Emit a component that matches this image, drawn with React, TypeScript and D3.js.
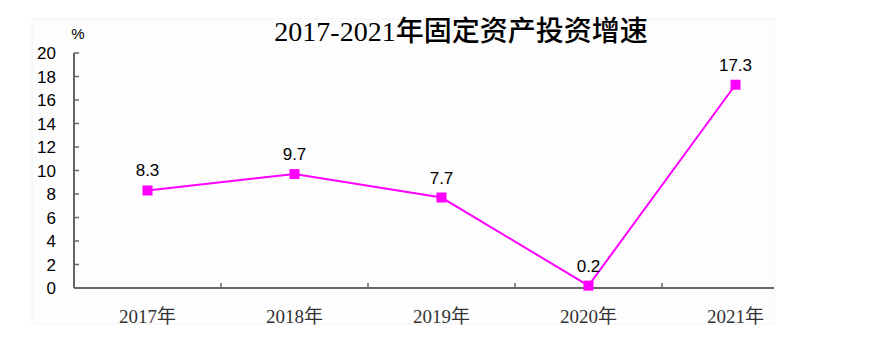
import React, { useEffect, useRef } from 'react'
import * as d3 from 'd3'

const years = ['2017年', '2018年', '2019年', '2020年', '2021年']
const growth = [8.3, 9.7, 7.7, 0.2, 17.3]
const yTicks = [0, 2, 4, 6, 8, 10, 12, 14, 16, 18, 20]

const App: React.FC = () => {
    const ref = useRef<SVGSVGElement | null>(null)

    useEffect(() => {
        if (!ref.current) return
        const width = 894
        const height = 354
        const svg = d3.select(ref.current)
        svg.selectAll('*').remove()
        svg.attr('width', width).attr('height', height)

        const sans = 'Liberation Sans, Arial, sans-serif'
        const serif = 'Liberation Serif, DejaVu Serif, Noto Sans CJK SC, serif'

        // faint frame of the original picture
        svg.append('rect')
            .attr('x', 32).attr('y', 19).attr('width', 742).attr('height', 305)
            .attr('fill', '#fdfdfd').attr('stroke', '#f4f4f4')

        const left = 74
        const bottom = 288
        const top = 53
        const x = d3.scaleBand().domain(years).range([left, left + 147 * 5])
        const y = d3.scaleLinear().domain([0, 20]).range([bottom, top])
        const axisRight = 774

        svg.append('text')
            .attr('x', 461).attr('y', 41)
            .attr('text-anchor', 'middle')
            .style('font-family', serif)
            .style('font-size', '28px')
            .style('font-weight', '500')
            .style('fill', '#000')
            .text('2017-2021年固定资产投资增速')

        svg.append('text')
            .attr('x', 78).attr('y', 39)
            .attr('text-anchor', 'middle')
            .style('font-family', sans)
            .style('font-size', '15px')
            .text('%')

        const axisColor = '#666'
        // y axis
        svg.append('line')
            .attr('x1', left).attr('x2', left).attr('y1', y(20)).attr('y2', bottom)
            .attr('stroke', axisColor).attr('stroke-width', 2)
        svg.selectAll('.ytick').data(yTicks).enter().append('line')
            .attr('x1', left).attr('x2', left + 5)
            .attr('y1', d => y(d)).attr('y2', d => y(d))
            .attr('stroke', axisColor).attr('stroke-width', 1.5)
        svg.selectAll('.ylab').data(yTicks).enter().append('text')
            .attr('x', 56).attr('y', d => y(d) + 6)
            .attr('text-anchor', 'end')
            .style('font-family', sans)
            .style('font-size', '17px')
            .style('fill', '#000')
            .text(d => d)

        // x axis
        svg.append('line')
            .attr('x1', left).attr('x2', axisRight).attr('y1', bottom).attr('y2', bottom)
            .attr('stroke', axisColor).attr('stroke-width', 2)
        svg.selectAll('.xtick').data(years.slice(1)).enter().append('line')
            .attr('x1', d => x(d)!).attr('x2', d => x(d)!)
            .attr('y1', bottom).attr('y2', bottom - 5)
            .attr('stroke', axisColor).attr('stroke-width', 1.5)
        svg.selectAll('.xlab').data(years).enter().append('text')
            .attr('x', d => x(d)! + x.bandwidth() / 2)
            .attr('y', 323)
            .attr('text-anchor', 'middle')
            .style('font-family', serif)
            .style('font-size', '19px')
            .style('fill', '#333')
            .text(d => d)

        const pts = years.map((yr, i) => [x(yr)! + x.bandwidth() / 2, y(growth[i])] as [number, number])
        svg.append('path')
            .attr('d', d3.line()(pts))
            .attr('fill', 'none')
            .attr('stroke', '#ff00ff')
            .attr('stroke-width', 2)
        svg.selectAll('.mk').data(pts).enter().append('rect')
            .attr('x', d => d[0] - 5).attr('y', d => d[1] - 5)
            .attr('width', 10).attr('height', 10)
            .attr('fill', '#ff00ff')
        svg.selectAll('.vl').data(pts).enter().append('text')
            .attr('x', d => d[0])
            .attr('y', d => d[1] - 14)
            .attr('text-anchor', 'middle')
            .style('font-family', sans)
            .style('font-size', '17px')
            .style('fill', '#000')
            .text((d, i) => growth[i])
    }, [])

    return <svg ref={ref} style={{ display: 'block', position: 'absolute', left: 0, top: 0 }}></svg>
}

export default App
